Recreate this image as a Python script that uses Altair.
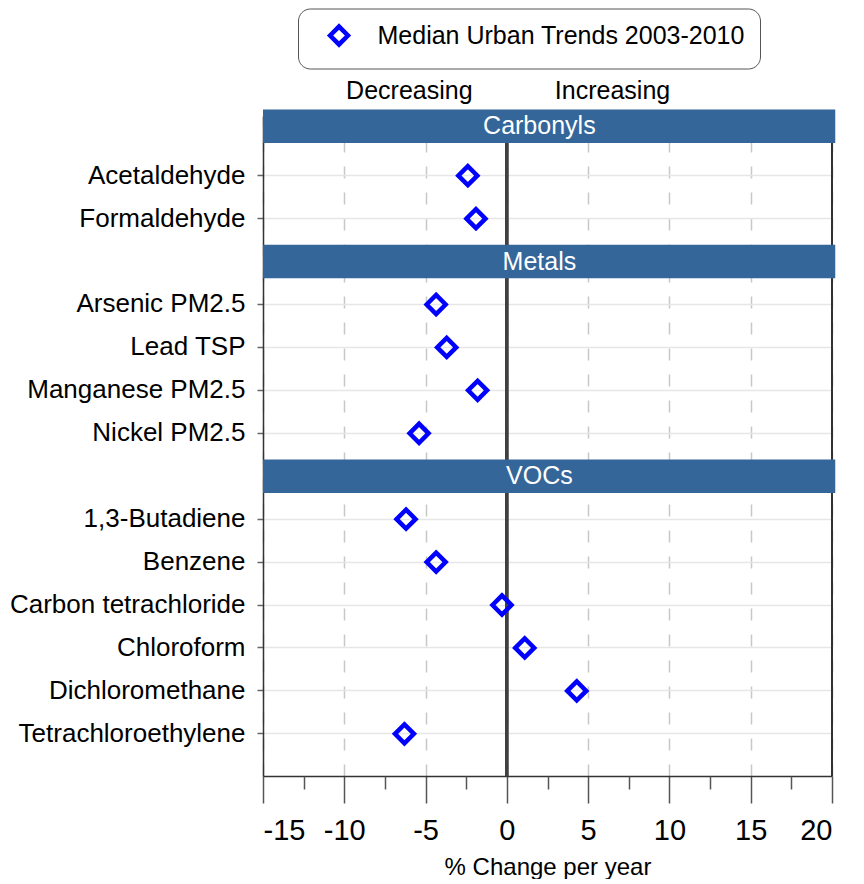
import altair as alt
import pandas as pd

# ---------------- data ----------------
groups = ["Carbonyls", "Metals", "VOCs"]
group_items = [
    ["Acetaldehyde", "Formaldehyde"],
    ["Arsenic PM2.5", "Lead TSP", "Manganese PM2.5", "Nickel PM2.5"],
    ["1,3-Butadiene", "Benzene", "Carbon tetrachloride", "Chloroform",
     "Dichloromethane", "Tetrachloroethylene"],
]
pollutants = [p for items in group_items for p in items]
trend_values = [-2.4, -1.9, -4.35, -3.7, -1.8, -5.4,
                -6.2, -4.35, -0.3, 1.1, 4.3, -6.3]
series_name = "Median Urban Trends 2003-2010"
x_major_ticks = [-15, -10, -5, 0, 5, 10, 15, 20]
x_minor_ticks = [-12.5, -7.5, -2.5, 2.5, 7.5, 12.5, 17.5]
direction_labels = ["Decreasing", "Increasing"]
direction_x = [-6, 6.5]
header_label_x = 2

# row order: each group header followed by its items
rows = []
for g, items in zip(groups, group_items):
    rows.append(g)
    rows.extend(items)

points_df = pd.DataFrame({"pollutant": pollutants, "value": trend_values,
                          "series": [series_name] * len(pollutants)})
groups_df = pd.DataFrame({"group": groups})
dir_df = pd.DataFrame({"label": direction_labels, "x": direction_x})
minor_df = pd.DataFrame({"tick": x_minor_ticks})

FONT = "Liberation Sans"
HEADER_BLUE = "#346699"

x_scale = alt.Scale(domain=[-15, 20], nice=False, zero=False)
y_scale = alt.Scale(domain=rows, paddingInner=0.219, paddingOuter=0.296, align=0)
y_axis = alt.Axis(values=pollutants, title=None, labelFontSize=26, labelFont=FONT,
                  labelColor="black", labelPadding=12, labelLimit=0, tickSize=6,
                  tickColor="#666666", tickWidth=1.5, domainColor="#333333",
                  domainWidth=1.5, grid=True, gridColor="#e6e6e6", gridWidth=1.5)

# ---------------- layers ----------------
zero_rule = alt.Chart(points_df).mark_rule(color="#404040", strokeWidth=2.5).encode(
    x=alt.X(datum=0, scale=x_scale)
)
right_frame = alt.Chart(points_df).mark_rule(color="#333333", strokeWidth=1.5).encode(
    x=alt.X(datum=20, scale=x_scale)
)


def header_layers(offset, keep_first):
    test = f"datum.group {'==' if keep_first else '!='} '{groups[0]}'"
    bars = alt.Chart(groups_df).transform_filter(test).mark_bar(
        color=HEADER_BLUE, yOffset=offset
    ).encode(
        x=alt.X(datum=-15, scale=x_scale),
        x2=alt.X2(datum=20.2),
        y=alt.Y("group:N", scale=y_scale, axis=y_axis),
    )
    txt = alt.Chart(groups_df).transform_filter(test).mark_text(
        color="white", fontSize=25, font=FONT, baseline="middle", align="center",
        yOffset=offset
    ).encode(
        x=alt.X(datum=header_label_x, scale=x_scale),
        y=alt.Y("group:N", scale=y_scale, axis=y_axis),
        text="group:N",
    )
    return [bars, txt]


dir_text = alt.Chart(dir_df).mark_text(
    fontSize=25, font=FONT, baseline="middle", align="center", color="black"
).encode(
    x=alt.X("x:Q", scale=x_scale),
    y=alt.value(-25),
    text="label:N",
)

points = alt.Chart(points_df).mark_point(
    shape="diamond", filled=False, size=360, strokeWidth=4.5, opacity=1
).encode(
    x=alt.X("value:Q", scale=x_scale,
            axis=alt.Axis(values=x_major_ticks, orient="bottom", title="% Change per year",
                          titleFontSize=24, titleFont=FONT, titleFontWeight="normal",
                          titleColor="black", titlePadding=10,
                          labelExpr="'' + datum.value",
                          labelFontSize=29, labelFont=FONT, labelColor="black",
                          labelPadding=13, labelOverlap=False,
                          tickSize=27, tickColor="#555555", tickWidth=1.5,
                          domainColor="#333333", domainWidth=1.5,
                          grid=True, gridColor="#c8c8c8", gridWidth=1.5,
                          gridDash=[12, 14])),
    y=alt.Y("pollutant:N", scale=y_scale, axis=y_axis),
    color=alt.Color("series:N", scale=alt.Scale(range=["#0000ff"]),
                    legend=alt.Legend(title=None, orient="none", legendX=35, legendY=-107.5,
                                      padding=14.5, strokeColor="#555555", cornerRadius=12,
                                      fillColor="white", labelFontSize=25, labelFont=FONT,
                                      labelColor="black", labelLimit=0,
                                      symbolType="diamond",
                                      symbolSize=320, symbolStrokeWidth=4.5,
                                      symbolOffset=14, labelOffset=26)),
)

main_layer = alt.layer(
    zero_rule, right_frame,
    *header_layers(-6.5, True), *header_layers(0, False),
    dir_text, points,
)

minor_axis = alt.Chart(minor_df).mark_point(opacity=0).encode(
    x=alt.X("tick:Q", scale=x_scale,
            axis=alt.Axis(values=x_minor_ticks, orient="bottom", title=None, labels=False,
                          domain=False, grid=False, tickSize=13, tickColor="#555555",
                          tickWidth=1.5)),
)

chart = alt.layer(main_layer, minor_axis).resolve_axis(x="independent").properties(
    width=569, height=660,
    padding={"left": 1, "top": 0, "right": 5, "bottom": 0},
).configure_view(stroke=None).configure(font=FONT)

chart.save("out.html", embed_options={"renderer": "svg", "actions": False})
